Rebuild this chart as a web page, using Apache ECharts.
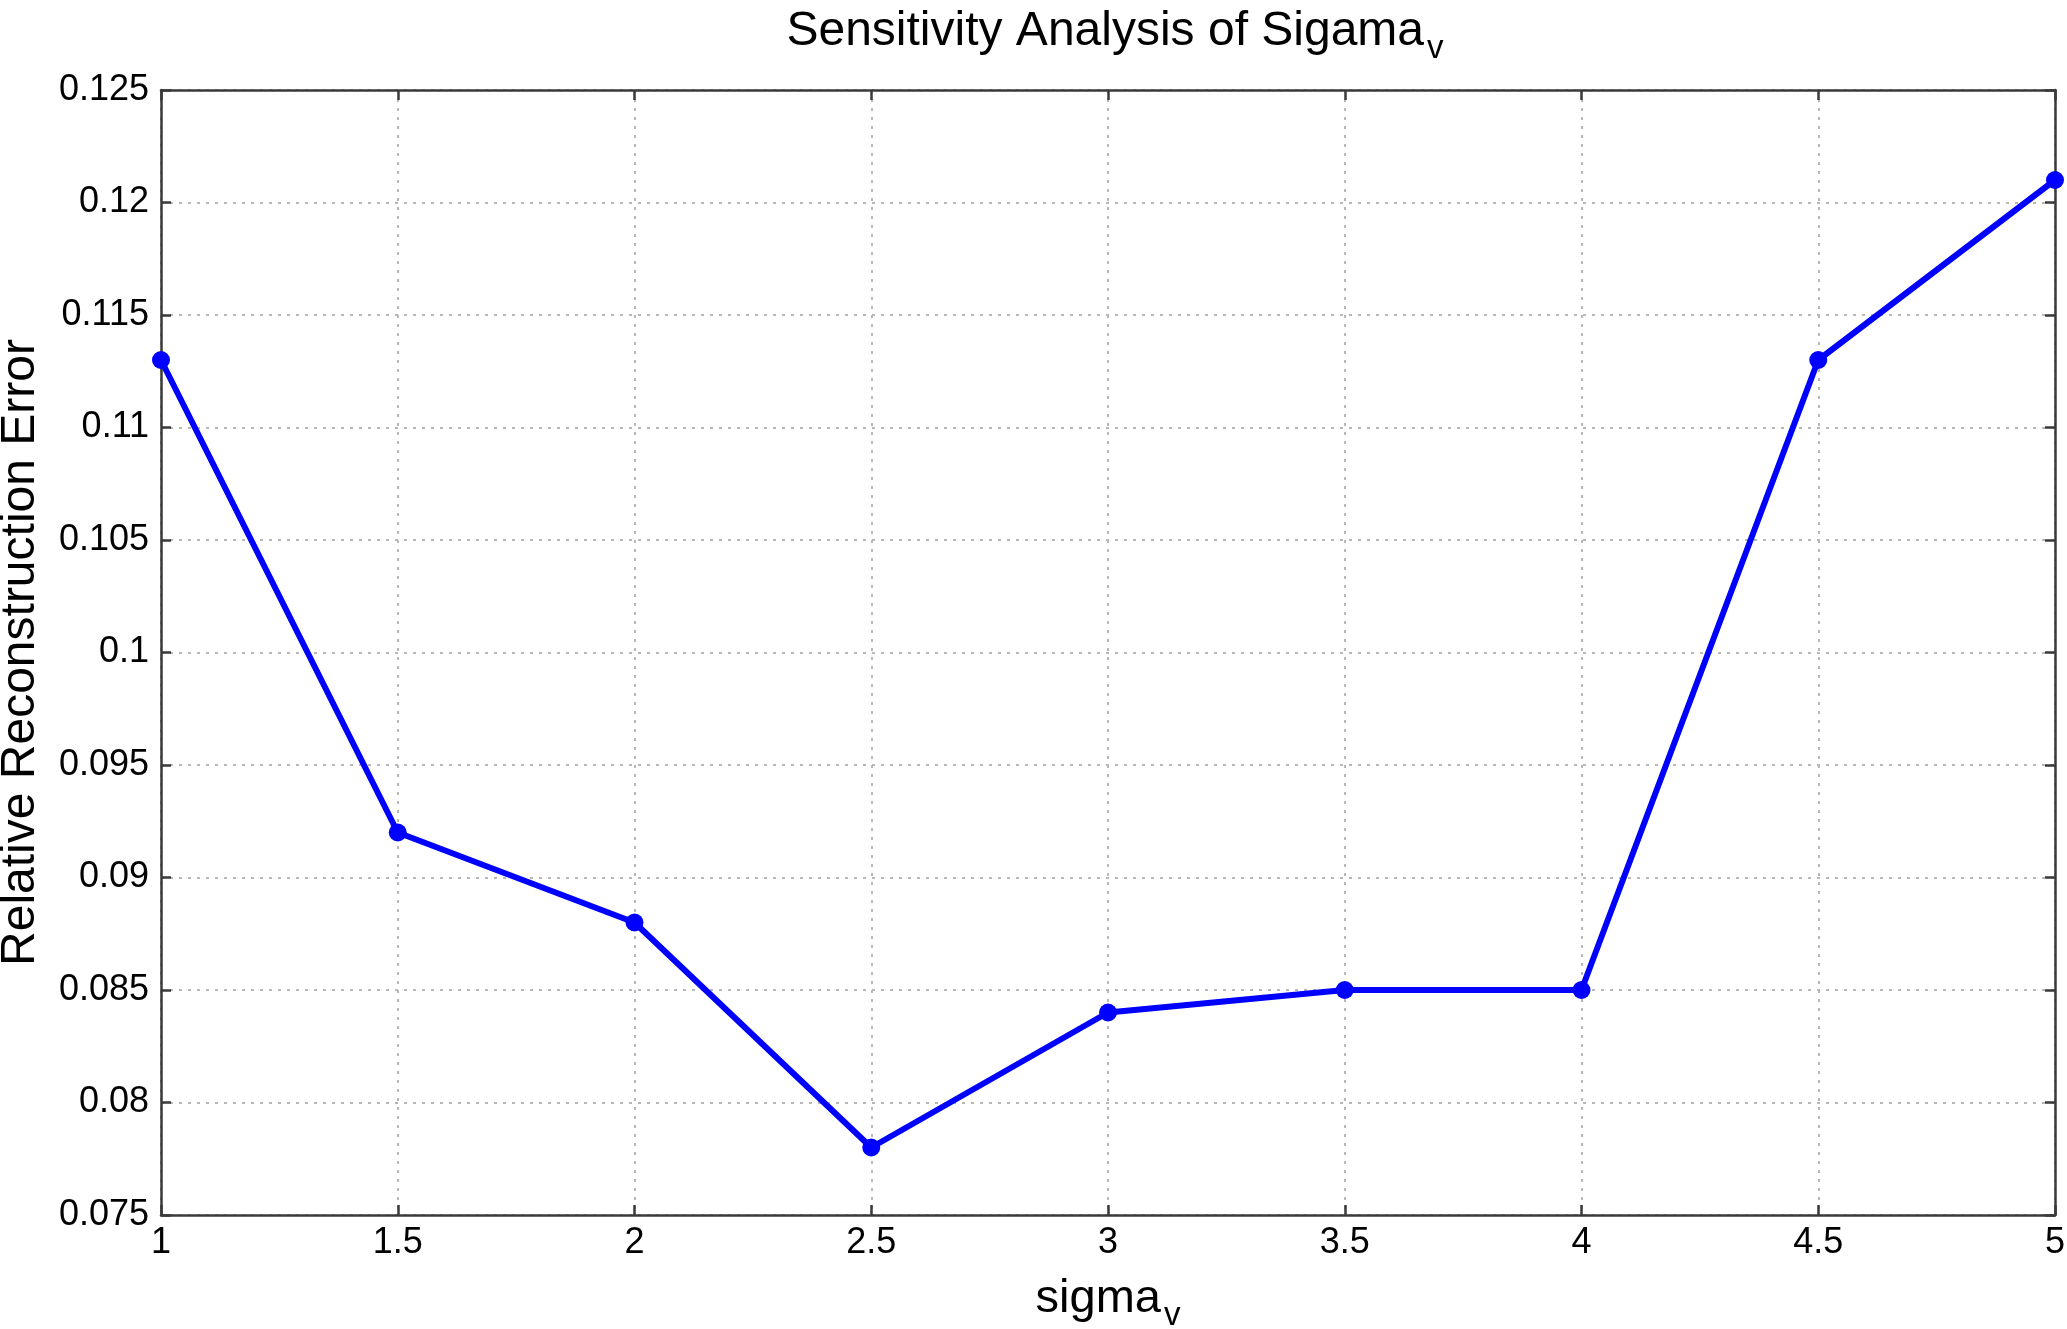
<!DOCTYPE html>
<html>
<head>
<meta charset="utf-8">
<script src="https://cdn.jsdelivr.net/npm/echarts@6/dist/echarts.min.js"></script>
<style>
html,body{margin:0;padding:0;background:#fff;}
#chart{width:2067px;height:1329px;}
</style>
</head>
<body>
<div id="chart"></div>
<script>
const sigmaValues = [1, 1.5, 2, 2.5, 3, 3.5, 4, 4.5, 5];
const errorValues = [0.113, 0.092, 0.088, 0.078, 0.084, 0.085, 0.085, 0.113, 0.121];
const titleMain = 'Sensitivity Analysis of Sigama';
const titleSub = 'v';
const xNameMain = 'sigma';
const xNameSub = 'v';
const yName = 'Relative Reconstruction Error';

const FONT = '"Liberation Sans", Arial, Helvetica, sans-serif';
const chart = echarts.init(document.getElementById('chart'));
const axisCommon = {
  axisLine: {show: true, lineStyle: {color: '#3a3a3a', width: 2.5}},
  axisTick: {show: true, inside: true, length: 10, lineStyle: {color: '#3a3a3a', width: 2.5}},
};
chart.setOption({
  backgroundColor: '#fff',
  animation: false,
  title: {
    text: '{a|' + titleMain + '}{b|' + titleSub + '}',
    left: 1110, top: 2, textAlign: 'center',
    textStyle: {
      fontWeight: 'normal',
      rich: {
        a: {fontFamily: FONT, fontSize: 48, fontWeight: 'normal', color: '#000', lineHeight: 50},
        b: {fontFamily: FONT, fontSize: 33, fontWeight: 'normal', color: '#000', padding: [34, 0, 0, 3], lineHeight: 50}
      }
    }
  },
  grid: {left: 161, right: 12, top: 90, bottom: 114, containLabel: false, outerBoundsMode: 'none'},
  xAxis: [{
    type: 'value', min: 1, max: 5, interval: 0.5,
    name: '{a|' + xNameMain + '}{b|' + xNameSub + '}',
    nameLocation: 'middle', nameGap: 40,
    nameTextStyle: {
      rich: {
        a: {fontFamily: FONT, fontSize: 47, color: '#000', lineHeight: 50},
        b: {fontFamily: FONT, fontSize: 33, color: '#000', padding: [34, 0, 0, 3], lineHeight: 50}
      }
    },
    ...axisCommon,
    axisLabel: {fontFamily: FONT, fontSize: 36, color: '#000', margin: 10,
      formatter: v => String(+v.toFixed(2))},
    splitLine: {show: true, lineStyle: {color: '#b8b8b8', width: 2, type: [3, 6]}}
  }, {
    type: 'value', min: 1, max: 5, interval: 0.5, position: 'top',
    ...axisCommon,
    axisLabel: {show: false}, splitLine: {show: false}
  }],
  yAxis: [{
    type: 'value', min: 0.075, max: 0.125, interval: 0.005,
    name: yName, nameLocation: 'middle', nameGap: 116, nameRotate: 90,
    nameTextStyle: {fontFamily: FONT, fontSize: 48, color: '#000'},
    ...axisCommon,
    axisLabel: {fontFamily: FONT, fontSize: 36, color: '#000', margin: 12,
      formatter: v => String(+v.toFixed(3))},
    splitLine: {show: true, lineStyle: {color: '#b8b8b8', width: 2, type: [3, 6]}}
  }, {
    type: 'value', min: 0.075, max: 0.125, interval: 0.005, position: 'right',
    ...axisCommon,
    axisLabel: {show: false}, splitLine: {show: false}
  }],
  series: [{
    type: 'line',
    data: sigmaValues.map((x, i) => [x, errorValues[i]]),
    symbol: 'circle', symbolSize: 18,
    lineStyle: {color: '#0000ff', width: 6},
    itemStyle: {color: '#0000ff'},
    clip: false
  }]
});
</script>
</body>
</html>
